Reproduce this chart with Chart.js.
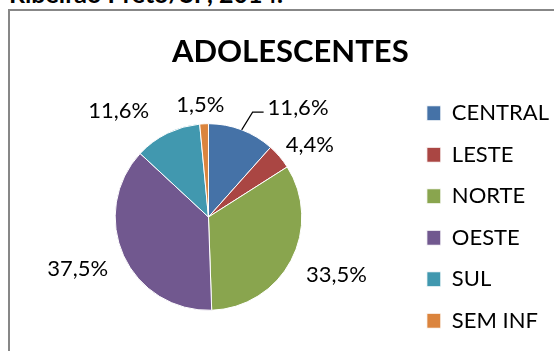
<!DOCTYPE html>
<html>
<head>
<meta charset="utf-8">
<script src="https://cdn.jsdelivr.net/npm/chart.js@4.4.1/dist/chart.umd.min.js"></script>
<style>
  html, body { margin: 0; padding: 0; background: #fff; overflow: hidden; }
  body { position: relative; width: 554px; height: 351px; }
  .caption {
    position: absolute; left: 9px; top: -19px;
    font: bold 25px Lato, sans-serif; line-height: 25px; color: #000;
    white-space: nowrap;
  }
  .frame {
    position: absolute; left: 8px; top: 9px; width: 600px; height: 400px;
    border: 2px solid #878787;
  }
  .chart-box { position: absolute; left: 0; top: 0; width: 600px; height: 360px; }
</style>
</head>
<body>
<div class="caption">Ribeirão Preto/SP, 2014.</div>
<div class="frame"></div>
<div class="chart-box"><canvas id="pieChart" width="600" height="360"></canvas></div>

<script>
// regions and their share of adolescents (%)
const regions = ['CENTRAL', 'LESTE', 'NORTE', 'OESTE', 'SUL', 'SEM INF'];
const shares = [11.6, 4.4, 33.5, 37.5, 11.6, 1.5];
const sliceColors = ['#4572A7', '#AA4643', '#89A54E', '#71588F', '#4198AF', '#DB843D'];

const FONT = 'Lato, sans-serif';

// empty box between pie and legend, keeps the title centred on the whole frame
// (display: false so it is not counted when the legend's max width is shared out)
const legendGap = {
  id: 'legendGap',
  beforeInit(chart, args, opts) {
    Chart.layouts.addBox(chart, {
      position: 'right',
      weight: 500,
      fullSize: false,
      options: { display: false },
      isHorizontal() { return false; },
      update(maxWidth, maxHeight) {
        this.width = opts.width;
        this.height = maxHeight;
      },
      draw() {}
    });
  }
};

// labels outside the pie; shift = [deg, px] per slice, leader line where set
const outsideLabels = {
  id: 'outsideLabels',
  afterDatasetsDraw(chart, args, opts) {
    const ctx = chart.ctx;
    const meta = chart.getDatasetMeta(0);
    const clamp = v => Math.max(-1, Math.min(1, v));
    ctx.save();
    ctx.font = opts.size + 'px ' + FONT;
    ctx.fillStyle = '#000';
    ctx.textAlign = 'center';
    ctx.textBaseline = 'middle';
    meta.data.forEach((arc, i) => {
      const p = arc.getProps(['x', 'y', 'startAngle', 'endAngle', 'outerRadius'], true);
      const mid = (p.startAngle + p.endAngle) / 2;
      const shift = opts.shift[i] || [0, 0];
      const a = mid + shift[0] * Math.PI / 180;
      const dx = Math.cos(a), dy = Math.sin(a);
      const d = p.outerRadius + opts.gap + shift[1];
      const text = shares[i].toFixed(1).replace('.', ',') + '%';
      const w = ctx.measureText(text).width;
      const h = opts.size;
      const cx = p.x + dx * d + w / 2 * clamp(dx * 3);
      const cy = p.y + dy * d + h / 2 * clamp(dy * 3);
      ctx.fillText(text, cx, cy);

      if (opts.leader[i]) {
        const sx = p.x + Math.cos(mid) * p.outerRadius;
        const sy = p.y + Math.sin(mid) * p.outerRadius;
        const ex = cx - w / 2 - 4;
        const ey = cy + 4;
        ctx.beginPath();
        ctx.strokeStyle = '#000';
        ctx.lineWidth = 1.2;
        ctx.moveTo(sx, sy);
        ctx.lineTo(ex - 11, ey);
        ctx.lineTo(ex, ey);
        ctx.stroke();
      }
    });
    ctx.restore();
  }
};

function draw() {
  new Chart(document.getElementById('pieChart'), {
    type: 'pie',
    data: {
      labels: regions,
      datasets: [{
        data: shares,
        backgroundColor: sliceColors,
        borderColor: '#ffffff',
        borderWidth: 1,
        radius: 93.3
      }]
    },
    plugins: [legendGap, outsideLabels],
    options: {
      responsive: false,
      animation: false,
      devicePixelRatio: 1,
      layout: { padding: { left: 21.6, right: 41, top: 10, bottom: 8 } },
      plugins: {
        title: {
          display: true,
          text: 'ADOLESCENTES',
          color: '#000',
          font: { family: FONT, size: 31, weight: 'bold' },
          padding: { top: 23.4, bottom: 11.4 }
        },
        legend: {
          position: 'right',
          align: 'center',
          fullSize: false,
          labels: {
            color: '#000',
            font: { family: FONT, size: 22 },
            boxWidth: 14,
            boxHeight: 15,
            padding: 19.5
          }
        },
        tooltip: { enabled: false },
        legendGap: { width: 12 },
        outsideLabels: {
          size: 22,
          gap: 14,
          shift: [[10.3, 7], [2.3, -9], [-2, 1], [2.3, 1], [-5.8, 4.5], [0, -6]],
          leader: [true, false, false, false, false, false]
        }
      }
    }
  });
}

if (document.fonts && document.fonts.load) {
  Promise.all([
    document.fonts.load('22px Lato'),
    document.fonts.load('bold 31px Lato')
  ]).then(draw, draw);
} else {
  draw();
}
</script>
</body>
</html>
